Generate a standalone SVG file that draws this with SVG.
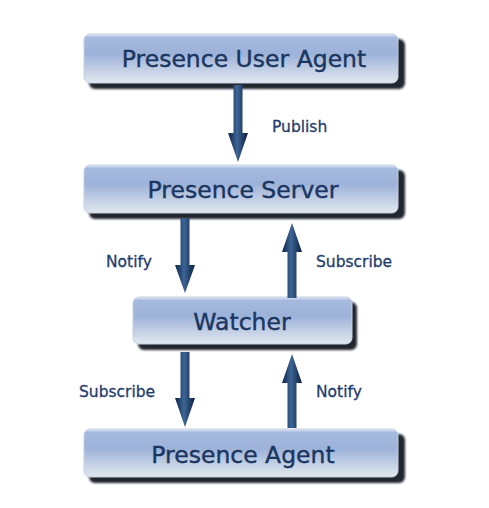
<svg xmlns="http://www.w3.org/2000/svg" width="489" height="508" viewBox="0 0 489 508">
<defs>
<linearGradient id="boxg" x1="0" y1="0" x2="0" y2="1">
<stop offset="0" stop-color="#e6ecf6"/>
<stop offset="0.07" stop-color="#a6badf"/>
<stop offset="0.4" stop-color="#9db2d9"/>
<stop offset="1" stop-color="#e2e8ef"/>
</linearGradient>
<linearGradient id="arrg" x1="0" y1="0" x2="1" y2="0">
<stop offset="0" stop-color="#0d2347"/>
<stop offset="0.45" stop-color="#3d6595"/>
<stop offset="1" stop-color="#0b1e3e"/>
</linearGradient>
<filter id="blur" x="-10%" y="-20%" width="120%" height="140%"><feGaussianBlur stdDeviation="1"/></filter>
</defs>
<style>
.shadow{fill:#23282e;filter:url(#blur)}
.box{fill:url(#boxg);stroke:#c4cfe2;stroke-width:1}
.title{font-family:"DejaVu Sans",Verdana,sans-serif;font-size:23.5px;fill:#1a365f;stroke:#1a365f;stroke-width:0.4;text-anchor:middle}
.lbl{font-family:"DejaVu Sans",Verdana,sans-serif;font-size:15.5px;fill:#1f3c6c;stroke:#1f3c6c;stroke-width:0.3}
.arr{fill:url(#arrg)}
</style>
<rect width="489" height="508" fill="#ffffff"/>
<g id="node-pua">
<rect class="shadow" x="89" y="39" width="316" height="50" rx="6"/>
<rect class="box" x="84" y="34" width="314" height="49" rx="6"/>
<text class="title" x="244" y="67">Presence User Agent</text>
</g>
<g id="node-ps">
<rect class="shadow" x="89" y="170" width="316" height="49" rx="6"/>
<rect class="box" x="84" y="165" width="314" height="48" rx="6"/>
<text class="title" x="243" y="198">Presence Server</text>
</g>
<g id="node-watcher">
<rect class="shadow" x="138" y="302" width="219" height="48" rx="6"/>
<rect class="box" x="133" y="297" width="219" height="47" rx="6"/>
<text class="title" x="242" y="330">Watcher</text>
</g>
<g id="node-pa">
<rect class="shadow" x="89" y="434" width="316" height="49" rx="6"/>
<rect class="box" x="84" y="429" width="314" height="48" rx="6"/>
<text class="title" x="243" y="463">Presence Agent</text>
</g>
<g id="connectors">
<path class="arr" d="M233.5,85 H242.5 V133 H248 L238,162 L228,133 H233.5 Z"/>
<path class="arr" d="M180.5,218 H189.5 V265 H195 L185,293 L175,265 H180.5 Z"/>
<path class="arr" d="M287.5,298 H296.5 V252 H302 L292,223 L282,252 H287.5 Z"/>
<path class="arr" d="M180.5,352 H189.5 V398 H195 L185,427 L175,398 H180.5 Z"/>
<path class="arr" d="M287.5,428 H296.5 V383 H302 L292,354 L282,383 H287.5 Z"/>
</g>
<g id="labels">
<text class="lbl" x="272" y="132">Publish</text>
<text class="lbl" x="106" y="267">Notify</text>
<text class="lbl" x="316" y="267">Subscribe</text>
<text class="lbl" x="79" y="397">Subscribe</text>
<text class="lbl" x="316" y="397">Notify</text>
</g>
</svg>
